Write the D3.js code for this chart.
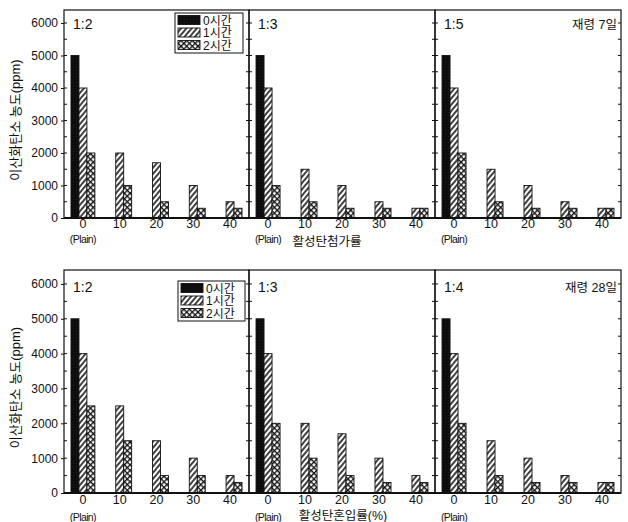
<!DOCTYPE html>
<html>
<head>
<meta charset="utf-8">
<script src="https://cdn.jsdelivr.net/npm/d3@7"></script>
<style>
  html, body { margin: 0; padding: 0; background: #fff; }
  svg text { font-family: "Liberation Sans", Arial, "Noto Sans CJK KR", sans-serif; fill: #111; }
</style>
</head>
<body>
<svg id="chart" width="628" height="522"></svg>
<script>
// Activated-carbon content (%) on the x axis
const categories = ["0", "10", "20", "30", "40"];
// Elapsed time series
const seriesNames = ["0시간", "1시간", "2시간"];
const yTicks = [0, 1000, 2000, 3000, 4000, 5000, 6000];

// CO2 concentration (ppm), rows = 0h / 1h / 2h, columns = categories
// Age 7 days
const age7_r12 = [[5000, 0, 0, 0, 0], [4000, 2000, 1700, 1000, 500], [2000, 1000, 500, 300, 300]];
const age7_r13 = [[5000, 0, 0, 0, 0], [4000, 1500, 1000, 500, 300], [1000, 500, 300, 300, 300]];
const age7_r15 = [[5000, 0, 0, 0, 0], [4000, 1500, 1000, 500, 300], [2000, 500, 300, 300, 300]];
// Age 28 days
const age28_r12 = [[5000, 0, 0, 0, 0], [4000, 2500, 1500, 1000, 500], [2500, 1500, 500, 500, 300]];
const age28_r13 = [[5000, 0, 0, 0, 0], [4000, 2000, 1700, 1000, 500], [2000, 1000, 500, 300, 300]];
const age28_r14 = [[5000, 0, 0, 0, 0], [4000, 1500, 1000, 500, 300], [2000, 500, 300, 300, 300]];

const ratioLabels7 = ["1:2", "1:3", "1:5"];
const ratioLabels28 = ["1:2", "1:3", "1:4"];
const ageLabels = ["재령 7일", "재령 28일"];
const xTitles = ["활성탄첨가률", "활성탄혼입률(%)"];
const yTitle = "이산화탄소 농도(ppm)";

const svg = d3.select("#chart");
const defs = svg.append("defs");

// Fill patterns for the three series
defs.append("pattern").attr("id", "solid").attr("patternUnits", "userSpaceOnUse")
  .attr("width", 3).attr("height", 3)
  .call(p => {
    p.append("rect").attr("width", 3).attr("height", 3).attr("fill", "#0c0c0c");
    p.append("rect").attr("x", 1).attr("y", 1).attr("width", 0.6).attr("height", 0.6).attr("fill", "#3a3a3a");
  });
defs.append("pattern").attr("id", "hatch").attr("patternUnits", "userSpaceOnUse")
  .attr("width", 4).attr("height", 4).attr("patternTransform", "rotate(40)")
  .call(p => {
    p.append("rect").attr("width", 4).attr("height", 4).attr("fill", "#fff");
    p.append("line").attr("x1", 1).attr("y1", 0).attr("x2", 1).attr("y2", 4)
      .attr("stroke", "#111").attr("stroke-width", 1.6);
  });
defs.append("pattern").attr("id", "cross").attr("patternUnits", "userSpaceOnUse")
  .attr("width", 4).attr("height", 4).attr("patternTransform", "rotate(45)")
  .call(p => {
    p.append("rect").attr("width", 4).attr("height", 4).attr("fill", "#fff");
    p.append("line").attr("x1", 0.5).attr("y1", 0).attr("x2", 0.5).attr("y2", 4)
      .attr("stroke", "#111").attr("stroke-width", 1.7);
    p.append("line").attr("x1", 0).attr("y1", 0.5).attr("x2", 4).attr("y2", 0.5)
      .attr("stroke", "#111").attr("stroke-width", 1.7);
  });
const fills = ["url(#solid)", "url(#hatch)", "url(#cross)"];

// Panel grid geometry
const colEdges = [64, 249, 435, 621];
const rows = [
  { top: 10, bottom: 218, data: [age7_r12, age7_r13, age7_r15], ratios: ratioLabels7,
    legend: { x: 175, y: 13, w: 68, h: 40 }, tickPad: 1, plainY: 25, titleX: 327, titleY: 246 },
  { top: 270, bottom: 493, data: [age28_r12, age28_r13, age28_r14], ratios: ratioLabels28,
    legend: { x: 178, y: 281, w: 67, h: 40 }, tickPad: 2, plainY: 28, titleX: 343, titleY: 520 }
];

rows.forEach((row, ri) => {
  const y = d3.scaleLinear().domain([0, 6400]).range([row.bottom, row.top]);

  row.data.forEach((panel, ci) => {
    const x0 = colEdges[ci], x1 = colEdges[ci + 1];
    const x = d3.scaleBand().domain(categories).range([x0, x1])
      .paddingInner(0.35).paddingOuter(0.19);
    const xs = d3.scaleBand().domain(seriesNames).range([0, x.bandwidth()]);
    const g = svg.append("g");

    // Bars
    seriesNames.forEach((s, si) => {
      g.selectAll(null)
        .data(categories.map((c, k) => ({ c, v: panel[si][k] })).filter(d => d.v > 0))
        .join("rect")
        .attr("x", d => x(d.c) + xs(s))
        .attr("y", d => y(d.v))
        .attr("width", xs.bandwidth())
        .attr("height", d => y(0) - y(d.v))
        .attr("fill", fills[si])
        .attr("stroke", "#111")
        .attr("stroke-width", 0.9);
    });

    // Inner minor ticks on the panel's side borders
    const minor = d3.range(500, 6400, 500);
    g.selectAll(null).data(minor).join("line")
      .attr("x1", x0).attr("x2", x0 + 3)
      .attr("y1", d => y(d)).attr("y2", d => y(d))
      .attr("stroke", "#111").attr("stroke-width", 1);
    g.selectAll(null).data(minor).join("line")
      .attr("x1", x1 - 3).attr("x2", x1)
      .attr("y1", d => y(d)).attr("y2", d => y(d))
      .attr("stroke", "#111").attr("stroke-width", 1);

    // Frame
    g.append("rect").attr("x", x0).attr("y", row.top)
      .attr("width", x1 - x0).attr("height", row.bottom - row.top)
      .attr("fill", "none").attr("stroke", "#111").attr("stroke-width", 1.2);
    g.append("line").attr("x1", x0).attr("x2", x1)
      .attr("y1", row.bottom).attr("y2", row.bottom)
      .attr("stroke", "#111").attr("stroke-width", 1.8);

    // X axis labels
    const xa = d3.axisBottom(x).tickSize(0).tickPadding(row.tickPad);
    const axg = g.append("g").attr("transform", `translate(0,${row.bottom})`).call(xa);
    axg.select(".domain").remove();
    axg.selectAll("text").attr("font-size", 12.5).attr("fill", "#111")
      .attr("font-family", "\"Liberation Sans\", Arial, sans-serif");
    g.append("text")
      .attr("x", x(categories[0]) + x.bandwidth() / 2)
      .attr("y", row.bottom + row.plainY)
      .attr("text-anchor", "middle")
      .attr("font-size", 10.5).attr("letter-spacing", -0.6)
      .text("(Plain)");

    // Ratio label
    g.append("text").attr("x", x0 + 9).attr("y", row.top + (ri === 0 ? 19 : 22))
      .attr("font-size", 14).text(row.ratios[ci]);
  });

  // Left value axis
  const ya = d3.axisLeft(y).tickValues(yTicks).tickFormat(d3.format("d"))
    .tickSize(3).tickPadding(3);
  const yg = svg.append("g").attr("transform", `translate(${colEdges[0]},0)`).call(ya);
  yg.select(".domain").remove();
  yg.selectAll("line").attr("stroke", "#111");
  yg.selectAll("text").attr("font-size", 12).attr("fill", "#111")
    .attr("font-family", "\"Liberation Sans\", Arial, sans-serif");

  // Y title
  const midY = (row.top + row.bottom) / 2 + 6;
  svg.append("text")
    .attr("transform", `translate(20,${midY}) rotate(-90)`)
    .attr("text-anchor", "middle").attr("font-size", 13)
    .text(yTitle);

  // Age label
  svg.append("text").attr("x", 617).attr("y", row.top + (ri === 0 ? 19 : 22))
    .attr("text-anchor", "end").attr("font-size", 12.5).text(ageLabels[ri]);

  // X title
  svg.append("text").attr("x", row.titleX).attr("y", row.titleY)
    .attr("text-anchor", "middle").attr("font-size", 12.5)
    .text(xTitles[ri]);

  // Legend
  const L = row.legend;
  const lg = svg.append("g");
  lg.append("rect").attr("x", L.x).attr("y", L.y).attr("width", L.w).attr("height", L.h)
    .attr("fill", "#fff").attr("stroke", "#111").attr("stroke-width", 1);
  seriesNames.forEach((s, si) => {
    const cy = L.y + 7 + si * 12.5;
    lg.append("rect").attr("x", L.x + 3).attr("y", cy - 4.5).attr("width", 22).attr("height", 9)
      .attr("fill", fills[si]).attr("stroke", "#111").attr("stroke-width", 0.9);
    lg.append("text").attr("x", L.x + 28).attr("y", cy + 4.5)
      .attr("font-size", 12).text(s);
  });
});
</script>
</body>
</html>
